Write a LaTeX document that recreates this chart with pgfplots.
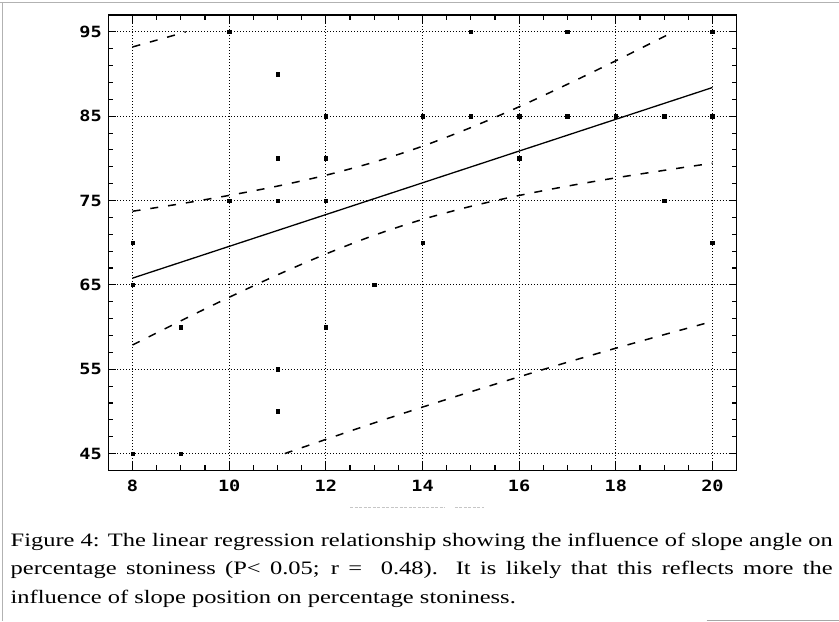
\documentclass[border=0pt]{standalone}
\usepackage{fontspec}
\setmainfont{Liberation Serif}
\newfontfamily\tickfont{DejaVu Sans Mono}
\usepackage{graphicx}
\usepackage{pgfplots}
\pgfplotsset{compat=1.18}

\begin{document}
\begin{tikzpicture}
\path (0pt,0pt) rectangle (839pt,-622pt);
% scanned page frame
\draw[gray!60, line width=1pt] (0pt,-3pt) -- (839pt,-3pt);
\draw[gray!60, line width=1pt] (2pt,-3pt) -- (2pt,-622pt);
\draw[gray!70, line width=1pt] (707pt,-621pt) -- (839pt,-621pt);
% faded axis title
\draw[gray!45, line width=1.5pt, dash pattern=on 3pt off 1.5pt] (350pt,-508pt) -- (445pt,-508pt);
\draw[gray!45, line width=1.5pt, dash pattern=on 3pt off 1.5pt] (455pt,-508pt) -- (484pt,-508pt);

\begin{axis}[
    at={(108pt,-15pt)}, anchor=north west,
    width=629pt, height=456pt, scale only axis,
    xmin=7.5, xmax=20.5, ymin=43, ymax=97,
    xtick={8,10,...,20}, ytick={45,55,...,95},
    minor x tick num=3, minor y tick num=4,
    tick align=inside,
    major tick length=8pt, minor tick length=5pt,
    every tick/.style={black, line width=1.1pt},
    axis line style={line width=1.4pt},
    grid=major,
    grid style={black, line width=0.8pt, dash pattern=on 0.8pt off 2.2pt},
    /pgf/number format/assume math mode=true,
    ticklabel style={font=\tickfont\bfseries\fontsize{15.5}{15.5}\selectfont},
    xticklabel={\scalebox{1.2}[1]{\pgfmathprintnumber{\tick}}},
    yticklabel={\scalebox{1.2}[1]{\pgfmathprintnumber{\tick}}},
    xticklabel style={yshift=-6pt},
    yticklabel style={xshift=-3pt},
]
% observations
\addplot[only marks, mark=square*, mark size=1.8pt, black] coordinates {
  (8,70) (8,65) (8,45)
  (9,60) (9,45)
  (10,95) (10,75)
  (11,90) (11,80) (11,75) (11,55) (11,50)
  (12,85) (12,80) (12,75) (12,60)
  (13,65)
  (14,85) (14,70)
  (15,95) (15,85)
  (16,85) (16,80)
  (17,95) (17,85)
  (18,85)
  (19,85) (19,75)
  (20,95) (20,85) (20,70)
};
% regression line
\addplot[black, line width=1.3pt] coordinates {(8,65.8) (20,88.4)};
% confidence band
\addplot[black, line width=1.5pt, dash pattern=on 8pt off 10pt, smooth] coordinates {
  (8,73.73) (9,74.62) (10,75.61) (11,76.71) (12,78.00) (13,79.56) (14,81.44)
  (15,83.65) (16,86.12) (17,88.79) (18,91.57) (19,94.44) (19.2,95.0)
};
\addplot[black, line width=1.5pt, dash pattern=on 8pt off 10pt, smooth] coordinates {
  (8,57.87) (9,60.74) (10,63.53) (11,66.19) (12,68.66) (13,70.88) (14,72.76)
  (15,74.31) (16,75.60) (17,76.71) (18,77.69) (19,78.58) (20,79.43)
};
% prediction band
\addplot[black, line width=1.5pt, dash pattern=on 8pt off 10pt] coordinates {
  (8,93.21) (9,94.82) (9.1,95.0)
};
\addplot[black, line width=1.5pt, dash pattern=on 8pt off 10pt, smooth] coordinates {
  (11.15,45.0) (12,46.68) (13,48.63) (14,50.51) (15,52.33) (16,54.10)
  (17,55.83) (18,57.49) (19,59.10) (20,60.67)
};
\end{axis}

\node[anchor=base west, inner sep=0pt] at (10pt,-547pt) {\scalebox{1.29}[1]{\parbox[t]{638pt}{\fontsize{19}{28.5}\selectfont
Figure 4: The linear regression relationship showing the influence of slope angle on\linebreak
percentage stoniness (P< 0.05; r =~ 0.48). It is likely that this reflects more the\linebreak
influence of slope position on percentage stoniness.}}};
\end{tikzpicture}
\end{document}
